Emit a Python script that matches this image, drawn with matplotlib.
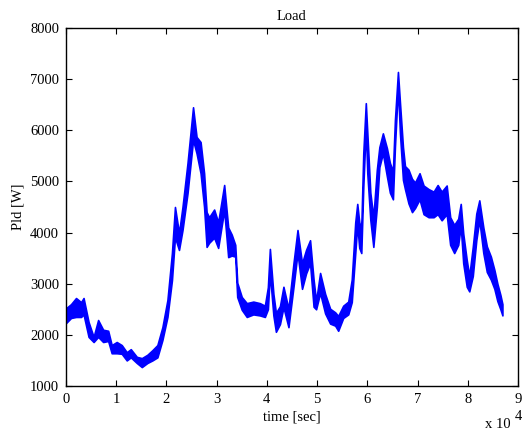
import matplotlib
matplotlib.use("Agg")
import matplotlib.pyplot as plt

# time in units of 1e4 s, lower / upper edge of the noisy load band [W]
t = [0.00, 0.10, 0.20, 0.30, 0.35, 0.45, 0.55, 0.64, 0.74, 0.84, 0.91,
     1.01, 1.11, 1.21, 1.29, 1.41, 1.51, 1.62, 1.72, 1.82, 1.92, 2.02,
     2.11, 2.17, 2.25, 2.32, 2.42, 2.53, 2.60, 2.68, 2.75, 2.80, 2.85,
     2.95, 3.03, 3.15, 3.23, 3.30, 3.37, 3.41, 3.50, 3.60, 3.73, 3.86,
     3.96, 4.02, 4.06, 4.13, 4.18, 4.26, 4.33, 4.43, 4.53, 4.61, 4.70,
     4.78, 4.86, 4.93, 4.98, 5.06, 5.16, 5.26, 5.36, 5.42, 5.52, 5.62,
     5.69, 5.76, 5.80, 5.84, 5.88, 5.92, 5.97, 6.00, 6.06, 6.12, 6.19,
     6.24, 6.31, 6.39, 6.45, 6.51, 6.55, 6.61, 6.65, 6.71, 6.75, 6.82,
     6.89, 6.95, 7.04, 7.12, 7.22, 7.32, 7.40, 7.48, 7.58, 7.65, 7.73,
     7.81, 7.86, 7.91, 7.98, 8.03, 8.10, 8.17, 8.23, 8.31, 8.38, 8.46,
     8.53, 8.59, 8.65, 8.69]
lo = [2230, 2330, 2350, 2350, 2400, 1960, 1860, 1960, 1860, 1880, 1640,
      1640, 1630, 1500, 1560, 1450, 1370, 1450, 1500, 1560, 1900, 2350,
      3070, 3910, 3660, 4050, 4770, 5810, 5550, 5160, 4500, 3720, 3800,
      3900, 3700, 4440, 3520, 3550, 3530, 2740, 2490, 2350, 2400, 2380,
      2350, 2500, 3210, 2380, 2060, 2210, 2540, 2150, 2940, 3600, 2900,
      3200, 3400, 2550, 2500, 2820, 2420, 2220, 2180, 2080, 2330, 2400,
      2640, 3600, 4150, 3700, 3600, 4900, 6070, 5160, 4250, 3720, 4500,
      5280, 5550, 5100, 4780, 4650, 5680, 6850, 5940, 5030, 4850, 4570,
      4400, 4480, 4650, 4360, 4300, 4300, 4360, 4240, 4360, 3760, 3600,
      3760, 4130, 3400, 2940, 2850, 3150, 3850, 4250, 3600, 3230, 3080,
      2900, 2660, 2500, 2380]
hi = [2520, 2600, 2720, 2640, 2720, 2250, 1960, 2290, 2100, 2080, 1800,
      1860, 1800, 1660, 1720, 1570, 1545, 1610, 1700, 1800, 2150, 2680,
      3600, 4500, 3990, 4500, 5360, 6450, 5870, 5770, 5160, 4400, 4300,
      4450, 4200, 4930, 4100, 3960, 3760, 3020, 2740, 2620, 2650, 2620,
      2570, 2930, 3680, 2800, 2430, 2560, 2940, 2510, 3400, 4050, 3400,
      3660, 3850, 3080, 2660, 3210, 2800, 2510, 2440, 2370, 2570, 2650,
      3080, 4200, 4560, 4200, 4080, 5550, 6530, 5950, 4780, 4300, 5230,
      5670, 5940, 5650, 5360, 5200, 6200, 7140, 6540, 5670, 5300, 5230,
      5050, 4980, 5160, 4920, 4850, 4800, 4930, 4800, 4920, 4300, 4150,
      4270, 4560, 3980, 3460, 3150, 3720, 4370, 4630, 4100, 3730, 3530,
      3270, 3000, 2780, 2600]

x_ticks = [0, 1, 2, 3, 4, 5, 6, 7, 8, 9]
y_ticks = [1000, 2000, 3000, 4000, 5000, 6000, 7000, 8000]

plt.rcParams["font.family"] = ["Liberation Serif", "DejaVu Serif"]
fs = 10.5

fig = plt.figure(figsize=(5.22, 4.34), dpi=100)
ax = fig.add_axes([0.1264, 0.1106, 0.8659, 0.8249])

ax.fill_between(t, lo, hi, color="#0000ff", linewidth=1.2, edgecolor="#0000ff")

ax.set_xlim(0, 9)
ax.set_ylim(1000, 8000)
ax.set_xticks(x_ticks)
ax.set_yticks(y_ticks)
ax.tick_params(direction="in", top=True, right=True, labelsize=fs,
               length=4, width=0.8, pad=5)
for s in ax.spines.values():
    s.set_linewidth(1.0)

ax.set_title("Load", fontsize=fs, pad=6)
ax.set_xlabel("time [sec]", fontsize=fs, labelpad=3)
ax.set_ylabel("Pld [W]", fontsize=fs, labelpad=4)

# MATLAB-style exponent label
fig.text(0.929, 0.008, "x 10", fontsize=fs, ha="left", va="bottom")
fig.text(0.986, 0.041, "4", fontsize=fs, ha="left", va="center")

fig.savefig("out.png", dpi=100)
